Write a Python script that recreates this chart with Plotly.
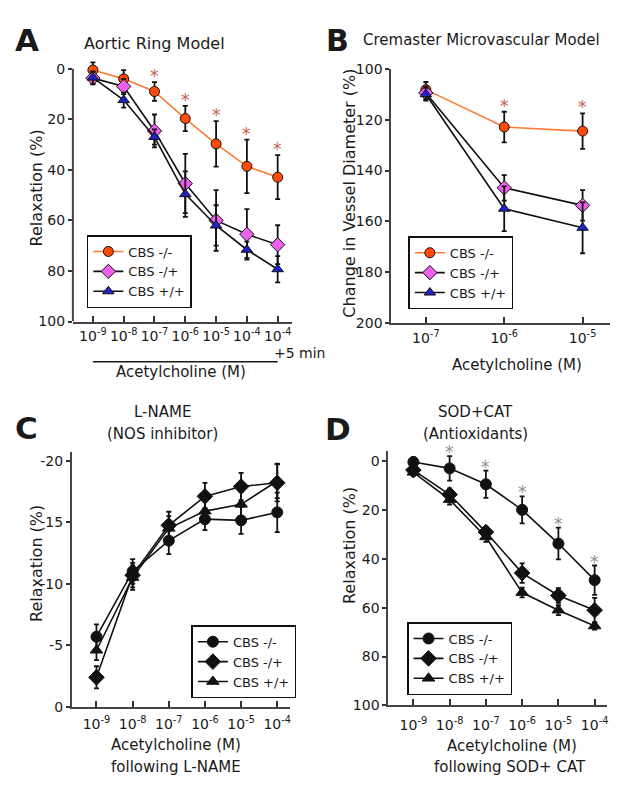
import plotly.graph_objects as go

W, H = 629, 792
FONT = "DejaVu Sans"
INK = "#1a1a1a"

# ---------------- data ----------------
# Panel A: Aortic ring model
a_labels = ["10<sup>-9</sup>", "10<sup>-8</sup>", "10<sup>-7</sup>", "10<sup>-6</sup>",
            "10<sup>-5</sup>", "10<sup>-4</sup>", "10<sup>-4</sup>"]
a_ko = [0.5, 4, 9, 19.7, 29.7, 38.6, 42.9]
a_ko_err = [3, 3.5, 3.7, 5, 9, 10.6, 8.7]
a_het = [3.7, 7, 24.6, 45.4, 60, 65.5, 69.6]
a_het_err = [2.5, 3, 6.5, 11.7, 12, 10, 7.7]
a_wt = [3.5, 12.4, 27, 49.6, 62, 71.6, 79.3]
a_wt_err = [2.5, 3, 3, 9, 8, 3.2, 5.2]
a_sig = [2, 3, 4, 5, 6]

# Panel B: Cremaster microvascular model
b_labels = ["10<sup>-7</sup>", "10<sup>-6</sup>", "10<sup>-5</sup>"]
b_ko = [108.2, 122.9, 124.5]
b_ko_err = [3, 6, 7]
b_het = [109.5, 146.8, 153.7]
b_het_err = [2.5, 5, 6]
b_wt = [110, 155, 162.5]
b_wt_err = [2.5, 8.8, 10]
b_sig = [1, 2]

# Panel C: following L-NAME
c_labels = ["10<sup>-9</sup>", "10<sup>-8</sup>", "10<sup>-7</sup>", "10<sup>-6</sup>",
            "10<sup>-5</sup>", "10<sup>-4</sup>"]
c_ko = [-5.7, -11.0, -13.5, -15.25, -15.15, -15.8]
c_ko_err = [1.0, 1.0, 1.1, 0.9, 1.1, 1.6]
c_het = [-2.4, -10.7, -14.75, -17.1, -17.9, -18.2]
c_het_err = [0.9, 1.0, 1.1, 1.1, 1.1, 1.5]
c_wt = [-4.6, -10.5, -14.5, -15.9, -16.45, -18.35]
c_wt_err = [0.8, 1.0, 1.0, 1.0, 1.0, 1.4]

# Panel D: following SOD + CAT
d_labels = c_labels
d_ko = [0.3, 2.9, 9.4, 19.9, 33.7, 48.7]
d_ko_err = [2, 5, 5.6, 5.5, 6.5, 6]
d_het = [3.6, 13.6, 29, 45.8, 55, 61]
d_het_err = [2, 2.5, 2, 4, 3, 5]
d_wt = [4.5, 15.7, 31, 53.8, 61, 67.5]
d_wt_err = [1.5, 2, 2, 2, 2, 1.5]
d_sig = [1, 2, 3, 4, 5]

names = ["CBS -/-", "CBS -/+", "CBS +/+"]

# ---------------- helpers ----------------
def px(x):
    return x / W

def py(y):
    return 1 - y / H

fig = go.Figure()

def series(x, y, err, ax, name, line_color, symbol, fill, legend, size=10):
    fig.add_trace(go.Scatter(
        x=x, y=y, mode="lines+markers", name=name,
        xaxis="x" + ax, yaxis="y" + ax, legend=legend,
        cliponaxis=False,
        line=dict(color=line_color, width=1.6),
        marker=dict(symbol=symbol, size=size, color=fill,
                    line=dict(color="#111111", width=1)),
        error_y=dict(type="data", array=err, visible=True,
                     color="#111111", thickness=1.8, width=2.5),
    ))

xa = list(range(len(a_labels)))
xb = list(range(len(b_labels)))
xc = list(range(len(c_labels)))
xd = list(range(len(d_labels)))

ORANGE_LINE = "#ff7a33"
ORANGE = "#ff4a0c"
PINK = "#ee60ee"
BLUE = "#1e22c8"

series(xa, a_ko, a_ko_err, "", names[0], ORANGE_LINE, "circle", ORANGE, "legend")
series(xa, a_het, a_het_err, "", names[1], "#111111", "diamond", PINK, "legend", 11)
series(xa, a_wt, a_wt_err, "", names[2], "#111111", "triangle-up", BLUE, "legend")

series(xb, b_ko, b_ko_err, "2", names[0], ORANGE_LINE, "circle", ORANGE, "legend2")
series(xb, b_het, b_het_err, "2", names[1], "#111111", "diamond", PINK, "legend2", 11)
series(xb, b_wt, b_wt_err, "2", names[2], "#111111", "triangle-up", BLUE, "legend2")

series(xc, c_ko, c_ko_err, "3", names[0], "#111111", "circle", "#111111", "legend3", 11)
series(xc, c_het, c_het_err, "3", names[1], "#111111", "diamond", "#111111", "legend3", 12)
series(xc, c_wt, c_wt_err, "3", names[2], "#111111", "triangle-up", "#111111", "legend3", 11)

series(xd, d_ko, d_ko_err, "4", names[0], "#111111", "circle", "#111111", "legend4", 11)
series(xd, d_het, d_het_err, "4", names[1], "#111111", "diamond", "#111111", "legend4", 12)
series(xd, d_wt, d_wt_err, "4", names[2], "#111111", "triangle-up", "#111111", "legend4", 11)

tickfont = dict(family=FONT, size=14, color=INK)

def xaxis(dom, rng, labels, anchor, standoff):
    return dict(domain=dom, range=rng, anchor=anchor, tickmode="array",
                tickvals=list(range(len(labels))), ticktext=labels,
                ticks="inside", ticklen=6, tickwidth=1.5, tickcolor="#333",
                showline=True, linecolor="#444", linewidth=2,
                showgrid=False, zeroline=False, tickfont=tickfont,
                ticklabelstandoff=standoff)

def yaxis(dom, rng, vals, texts, anchor, showline=True):
    return dict(domain=dom, range=rng, anchor=anchor, tickmode="array",
                tickvals=vals, ticktext=texts,
                ticks="outside", ticklen=4, tickwidth=1.5, tickcolor="#333",
                showline=showline, linecolor="#444", linewidth=2,
                showgrid=False, zeroline=False, tickfont=tickfont)

pct = [0, 20, 40, 60, 80, 100]
b_vals = [100, 120, 140, 160, 180, 200]
c_vals = [-20, -15, -10, -5, 0]

legend_common = dict(bgcolor="white", bordercolor="#111", borderwidth=1.5,
                     font=dict(family=FONT, size=13, color=INK),
                     xanchor="left", yanchor="top", tracegroupgap=0,
                     itemwidth=30)

fig.update_layout(
    width=W, height=H, margin=dict(l=0, r=0, t=0, b=0),
    paper_bgcolor="white", plot_bgcolor="white",
    font=dict(family=FONT, size=14, color=INK),
    xaxis=xaxis([px(73), px(292)], [-0.65, 6.45], a_labels, "y", 1),
    yaxis=yaxis([py(320), py(51.7)], [100, -4], pct, [str(v) for v in pct], "x", showline=False),
    xaxis2=xaxis([px(392), px(611)], [-0.44, 2.35], b_labels, "y2", 1),
    yaxis2=yaxis([py(321.7), py(62)], [200, 100], b_vals, [str(v) for v in b_vals], "x2"),
    xaxis3=xaxis([px(72), px(290)], [-0.68, 5.34], c_labels, "y3", 3),
    yaxis3=yaxis([py(713.3), py(453.2)], [0, -20.7], c_vals, [str(v) for v in c_vals], "x3"),
    xaxis4=xaxis([px(389), px(608.3)], [-0.69, 5.35], d_labels, "y4", 6),
    yaxis4=yaxis([py(711.7), py(451.7)], [100, -4.4], pct, [str(v) for v in pct], "x4"),
    legend=dict(x=px(87), y=py(231.7), **legend_common),
    legend2=dict(x=px(409), y=py(233), **legend_common),
    legend3=dict(x=px(191.7), y=py(630), **legend_common),
    legend4=dict(x=px(407.7), y=py(626.7), **legend_common),
    showlegend=True,
)

# y-axis line of panel A (0..100 only)
fig.add_shape(type="line", xref="x domain", yref="y", x0=0, x1=0, y0=0, y1=100,
              line=dict(color="#444", width=2))
# bracket line under panel A tick labels
fig.add_shape(type="line", xref="x", yref="paper", x0=xa[0], x1=xa[-1],
              y0=py(361), y1=py(361), line=dict(color=INK, width=1.5))

ann = []

def text(x, y, s, size=14, bold=False, angle=0, xanchor="center", color=INK):
    ann.append(dict(x=px(x), y=py(y), xref="paper", yref="paper", text=s,
                    showarrow=False, textangle=angle, xanchor=xanchor, yanchor="middle",
                    font=dict(family=FONT, size=size, color=color,
                              weight="bold" if bold else "normal")))

# panel letters
text(27, 33, "A", 31, True)
text(338, 33, "B", 30, True)
text(27, 429, "C", 31, True)
text(339, 430, "D", 31, True)

# panel titles
text(155, 36, "Aortic Ring Model", 16)
text(362, 33, "Cremaster Microvascular Model", 15, xanchor="left")
text(163, 412.5, "L-NAME", 15)
text(163, 434.5, "(NOS inhibitor)", 15)
text(476, 412, "SOD+CAT", 15)
text(476, 434.5, "(Antioxidants)", 15)

# axis titles
text(36.7, 183.5, "Relaxation (%)", 16, angle=-90)
text(350, 189, "Change in Vessel Diameter (%)", 16, angle=-90)
text(36.7, 566.7, "Relaxation (%)", 16, angle=-90)
text(350.7, 549, "Relaxation (%)", 16, angle=-90)
text(181.5, 372, "Acetylcholine (M)", 15)
text(517.5, 364, "Acetylcholine (M)", 15)
text(176.7, 752.7, "Acetylcholine (M)", 15)
text(176, 775, "following L-NAME", 15)
text(512.5, 753, "Acetylcholine (M)", 15)
text(511, 775, "following SOD+ CAT", 15)

# "+5 min" under last tick of A
ann.append(dict(x=xa[-1], y=py(352), xref="x", yref="paper", text="+5 min",
                showarrow=False, xanchor="left", yanchor="middle", xshift=-6,
                font=dict(family=FONT, size=14, color=INK)))

# significance asterisks
def stars(xs, ys, errs, idx, xr, yr, color, shift):
    for i in idx:
        ann.append(dict(x=xs[i], y=ys[i] - errs[i], xref=xr, yref=yr, text="*",
                        showarrow=False, xanchor="center", yanchor="bottom",
                        yshift=shift, font=dict(family=FONT, size=17, color=color)))

stars(xa, a_ko, a_ko_err, a_sig, "x", "y", "#c4604c", -6)
stars(xb, b_ko, b_ko_err, b_sig, "x2", "y2", "#c4604c", -6)
stars(xd, d_ko, d_ko_err, d_sig, "x4", "y4", "#8e8e8e", -8)

fig.update_layout(annotations=ann)

fig.write_html(
    "out.html",
    config={"displayModeBar": False},
    post_script="document.body.style.margin='0';document.body.style.overflow='hidden';",
)
